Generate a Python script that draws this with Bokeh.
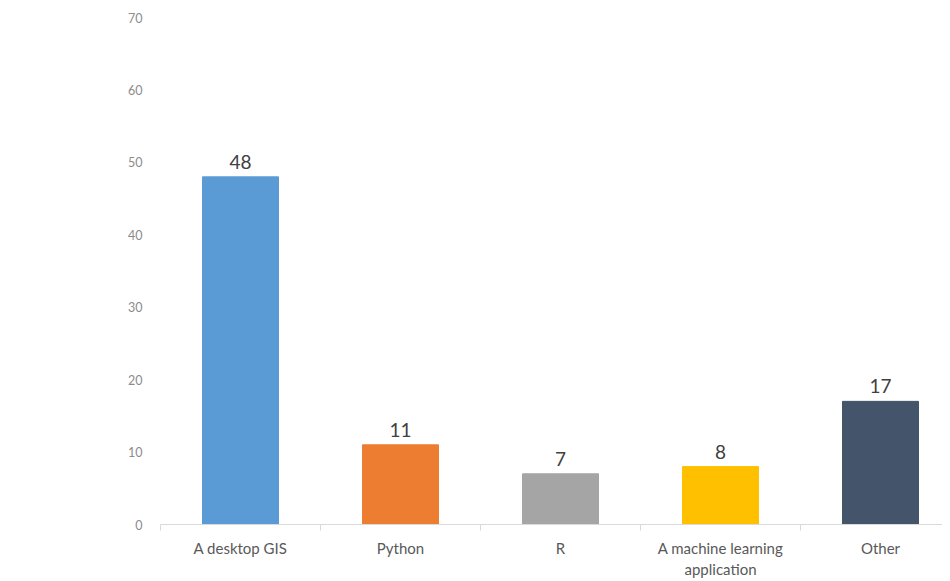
from bokeh.plotting import figure
from bokeh.models import ColumnDataSource, Range1d, FixedTicker, LabelSet
from bokeh.core.properties import value
from bokeh.embed import file_html
from bokeh.resources import INLINE

categories = ["A desktop GIS", "Python", "R", "A machine learning\napplication", "Other"]
values = [48, 11, 7, 8, 17]
colors = ["#5B9BD5", "#ED7D31", "#A5A5A5", "#FFC000", "#44546A"]
y_ticks = [0, 10, 20, 30, 40, 50, 60, 70]

xs = [i + 0.5 for i in range(len(categories))]
src = ColumnDataSource(dict(x=xs, top=values, color=colors,
                            label=[str(v) for v in values]))

p = figure(width=942, height=581, output_backend="svg", toolbar_location=None,
           x_range=Range1d(0, 4.8875), y_range=Range1d(0, 70),
           min_border_left=160, min_border_right=0, min_border_top=17,
           min_border_bottom=10)
p.outline_line_color = None
p.background_fill_color = "white"
p.border_fill_color = "white"
p.grid.grid_line_color = None

p.vbar(x="x", top="top", bottom=0, width=0.475, color="color", source=src)

labels = LabelSet(x="x", y="top", text="label", source=src, text_align="center",
                  text_baseline="bottom", y_offset=8, text_font_size="19px",
                  text_color="#404040", text_font=value("Lato"))
p.add_layout(labels)

p.xaxis.ticker = FixedTicker(ticks=xs, minor_ticks=list(range(len(categories) + 1)))
p.xaxis.major_label_overrides = {x: c for x, c in zip(xs, categories)}
p.xaxis.axis_line_color = "#d9d9d9"
p.xaxis.major_tick_line_color = None
p.xaxis.minor_tick_line_color = "#d9d9d9"
p.xaxis.minor_tick_in = 0
p.xaxis.minor_tick_out = 6
p.xaxis.major_label_text_font = "Lato"
p.xaxis.major_label_text_font_size = "15px"
p.xaxis.major_label_text_color = "#595959"
p.xaxis.major_label_standoff = 8

p.yaxis.ticker = FixedTicker(ticks=y_ticks)
p.yaxis.axis_line_color = None
p.yaxis.major_tick_line_color = None
p.yaxis.minor_tick_line_color = None
p.yaxis.major_label_text_font = "Lato"
p.yaxis.major_label_text_font_size = "12.5px"
p.yaxis.major_label_text_color = "#8c8c8c"
p.yaxis.major_label_standoff = 12

open("out.html", "w").write(file_html(p, INLINE))
